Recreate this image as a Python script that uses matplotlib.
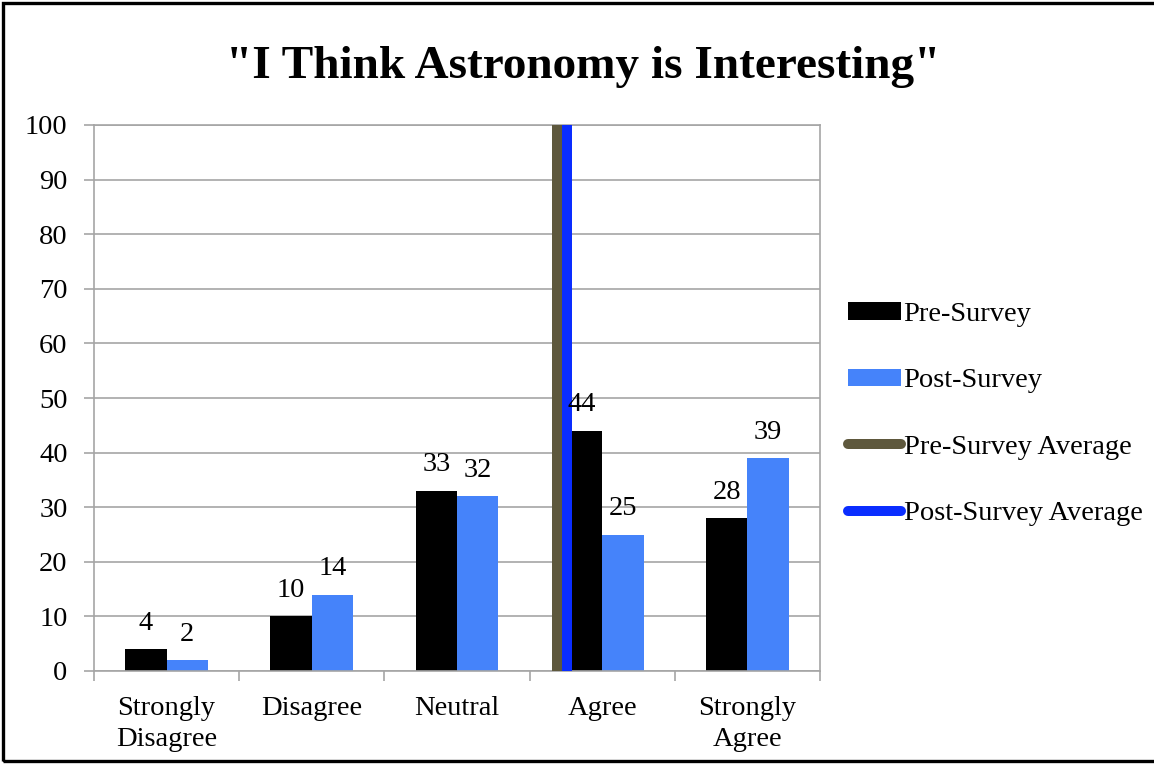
import numpy as np
import matplotlib.pyplot as plt
from matplotlib.patches import Rectangle
from matplotlib.lines import Line2D
from matplotlib.patches import Patch

categories = ["Strongly\nDisagree", "Disagree", "Neutral", "Agree", "Strongly\nAgree"]
pre_survey = [4, 10, 33, 44, 28]
post_survey = [2, 14, 32, 25, 39]
likert_scores = [1, 2, 3, 4, 5]

pre_color = "#000000"
post_color = "#4583FA"
pre_avg_color = "#5E583D"
post_avg_color = "#0A2DFF"
grid_color = "#A5A5A5"
fs = 20.5

plt.rcParams["font.family"] = ["Liberation Serif", "DejaVu Serif"]

# averages of the likert scores, weighted by counts
pre_avg = np.average(likert_scores, weights=pre_survey)
post_avg = np.average(likert_scores, weights=post_survey)

fig = plt.figure(figsize=(11.54, 7.71), dpi=100)
ax = fig.add_axes([94 / 1154, 100 / 771, 726 / 1154, 546 / 771])

x = np.arange(len(categories))
w = 0.285
ax.bar(x - w / 2, pre_survey, w, color=pre_color, zorder=2)
ax.bar(x + w / 2, post_survey, w, color=post_color, zorder=2)

# vertical average lines, score 1 sits at x = 0
ax.axvline(pre_avg - 1, color=pre_avg_color, lw=7.2, zorder=3)
ax.axvline(post_avg - 1, color=post_avg_color, lw=7.2, zorder=3)

for xi, v in zip(x - w / 2, pre_survey):
    ax.annotate(str(v), (xi, v), xytext=(0, 14), textcoords="offset points",
                ha="center", va="baseline", fontsize=fs, zorder=4)
for xi, v in zip(x + w / 2, post_survey):
    ax.annotate(str(v), (xi, v), xytext=(0, 14), textcoords="offset points",
                ha="center", va="baseline", fontsize=fs, zorder=4)

ax.set_xlim(-0.5, len(categories) - 0.5)
ax.set_ylim(0, 100)
ax.set_yticks(np.arange(0, 101, 10))
ax.yaxis.grid(True, color=grid_color, lw=1.2, zorder=0)
ax.set_axisbelow(True)

ax.set_xticks(x)
ax.set_xticklabels(categories, fontsize=fs, linespacing=1.3)
ax.tick_params(axis="x", which="major", length=0, pad=18)
ax.set_xticks(np.arange(-0.5, len(categories)), minor=True)
ax.tick_params(axis="x", which="minor", length=7, width=1.2, color=grid_color)
ax.tick_params(axis="y", labelsize=fs, length=7, width=1.2, color=grid_color, pad=12)

for s in ax.spines.values():
    s.set_color(grid_color)
    s.set_linewidth(1.2)

handles = [
    Patch(facecolor=pre_color, label="Pre-Survey"),
    Patch(facecolor=post_color, label="Post-Survey"),
    Line2D([], [], color=pre_avg_color, lw=7.2, solid_capstyle="round", label="Pre-Survey Average"),
    Line2D([], [], color=post_avg_color, lw=7.2, solid_capstyle="round", label="Post-Survey Average"),
]
fig.legend(handles=handles, loc="center left", bbox_to_anchor=(848 / 1154, 357 / 771),
           frameon=False, fontsize=fs, handlelength=1.85, handleheight=0.55,
           handletextpad=0.1, labelspacing=1.45, borderpad=0, borderaxespad=0)

fig.text(0.505, 693 / 771, '"I Think Astronomy is Interesting"', ha="center",
         va="baseline", fontsize=34, fontweight="bold")

# outer frame
fig.patches.append(Rectangle((3 / 1154, 10 / 771), 1.0, 758 / 771, transform=fig.transFigure,
                             fill=False, edgecolor="black", lw=2.4))

fig.savefig("out.png", dpi=100)
